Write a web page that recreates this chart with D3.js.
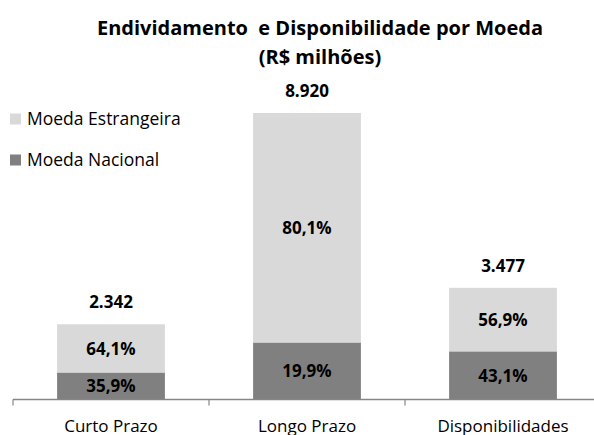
<!DOCTYPE html>
<html>
<head>
<meta charset="utf-8">
<script src="https://cdn.jsdelivr.net/npm/d3@7"></script>
<style>
  html, body { margin: 0; padding: 0; background: #fff; }
  svg { display: block; }
  text { font-family: "Open Sans", "Noto Sans", sans-serif; fill: #000; }
</style>
</head>
<body>
<svg id="chart" width="594" height="435"></svg>
<script>
const categories = ["Curto Prazo", "Longo Prazo", "Disponibilidades"];
const totals = [2342, 8920, 3477];
const totalLabels = ["2.342", "8.920", "3.477"];
const nacionalPct = [35.9, 19.9, 43.1];
const estrangeiraPct = [64.1, 80.1, 56.9];
const seriesNames = ["Moeda Nacional", "Moeda Estrangeira"];
const seriesColors = ["#808080", "#d9d9d9"];
const titleLines = ["Endividamento  e Disponibilidade por Moeda", "(R$ milhões)"];

const svg = d3.select("#chart");

const rows = categories.map((c, i) => ({
  cat: c,
  total: totals[i],
  label: totalLabels[i],
  nac: totals[i] * nacionalPct[i] / 100,
  est: totals[i] * estrangeiraPct[i] / 100,
  nacPct: nacionalPct[i],
  estPct: estrangeiraPct[i]
}));

const x = d3.scaleBand()
  .domain(categories)
  .range([13, 601])
  .paddingInner(0.45)
  .paddingOuter(0.225);

const baseY = 399.5;
const y = d3.scaleLinear().domain([0, 10000]).range([baseY, baseY - 321.2]);

const stack = d3.stack().keys(["nac", "est"]);
const stacked = stack(rows);

const fmtPct = v => v.toFixed(1).replace(".", ",") + "%";

// bars
const layers = svg.append("g").selectAll("g")
  .data(stacked).join("g")
  .attr("fill", (d, i) => seriesColors[i]);

layers.selectAll("rect")
  .data(d => d.map(p => ({ p, key: d.key })))
  .join("rect")
  .attr("x", d => x(d.p.data.cat))
  .attr("width", x.bandwidth())
  .attr("y", d => y(d.p[1]))
  .attr("height", d => y(d.p[0]) - y(d.p[1]));

// percent labels
layers.selectAll("text")
  .data(d => d.map(p => ({ p, key: d.key })))
  .join("text")
  .attr("x", d => x(d.p.data.cat) + x.bandwidth() / 2)
  .attr("y", d => (y(d.p[0]) + y(d.p[1])) / 2)
  .attr("dy", "0.36em")
  .attr("text-anchor", "middle")
  .style("font-weight", "bold")
  .style("font-size", "17px")
  .style("fill", "#000")
  .text(d => fmtPct(d.key === "nac" ? d.p.data.nacPct : d.p.data.estPct));

// total labels
svg.append("g").selectAll("text")
  .data(rows).join("text")
  .attr("x", d => x(d.cat) + x.bandwidth() / 2)
  .attr("y", d => y(d.total) - 16)
  .attr("text-anchor", "middle")
  .style("font-weight", "bold")
  .style("font-size", "17px")
  .text(d => d.label);

// axis
const axisG = svg.append("g");
axisG.append("line")
  .attr("x1", 13).attr("x2", 601)
  .attr("y1", baseY).attr("y2", baseY)
  .attr("stroke", "#868686").attr("stroke-width", 1.5);
const step = x.step();
const tickXs = categories.map(c => x(c) - x.paddingInner() * step / 2).concat([x(categories[categories.length - 1]) + x.bandwidth() + x.paddingInner() * step / 2]);
axisG.selectAll("line.tick")
  .data(tickXs).join("line")
  .attr("class", "tick")
  .attr("x1", d => d).attr("x2", d => d)
  .attr("y1", baseY).attr("y2", baseY + 6)
  .attr("stroke", "#868686").attr("stroke-width", 1.2);
axisG.selectAll("text")
  .data(categories).join("text")
  .attr("x", d => x(d) + x.bandwidth() / 2)
  .attr("y", 431.5)
  .attr("text-anchor", "middle")
  .style("font-size", "17px")
  .text(d => d);

// title
svg.append("g").selectAll("text")
  .data(titleLines).join("text")
  .attr("x", 320)
  .attr("y", (d, i) => 35 + i * 29)
  .attr("text-anchor", "middle")
  .style("font-weight", "bold")
  .style("font-size", "20px")
  .attr("xml:space", "preserve")
  .text(d => d);

// legend
const legendItems = [
  { name: seriesNames[1], color: seriesColors[1] },
  { name: seriesNames[0], color: seriesColors[0] }
];
const lg = svg.append("g").selectAll("g")
  .data(legendItems).join("g")
  .attr("transform", (d, i) => `translate(10, ${113.5 + i * 41})`);
lg.append("rect").attr("width", 11).attr("height", 11).attr("fill", d => d.color);
lg.append("text")
  .attr("x", 17).attr("y", 11.5)
  .style("font-size", "17.5px")
  .text(d => d.name);
</script>
</body>
</html>
